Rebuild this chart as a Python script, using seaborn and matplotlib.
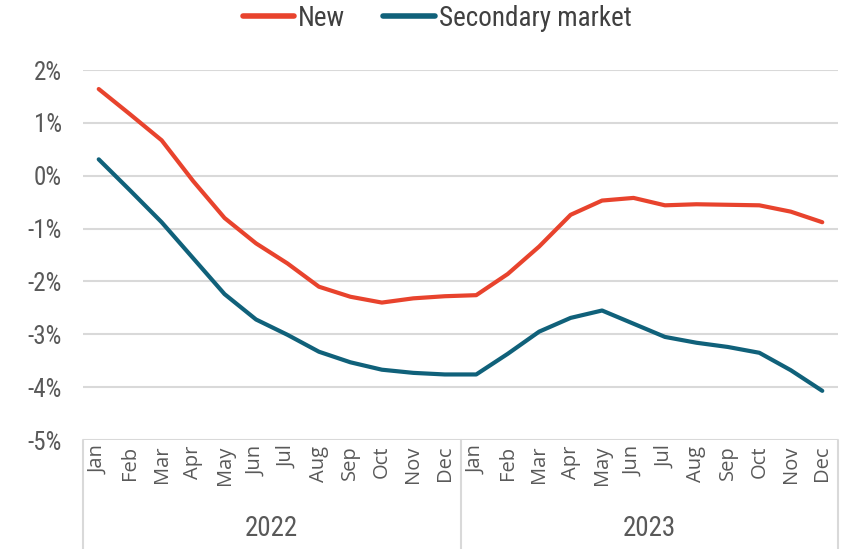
import matplotlib
matplotlib.use("Agg")
import matplotlib.pyplot as plt
import matplotlib.transforms as mtransforms
from matplotlib.lines import Line2D
from matplotlib import font_manager
import seaborn as sns
import pandas as pd
import numpy as np

months = ["Jan", "Feb", "Mar", "Apr", "May", "Jun", "Jul", "Aug", "Sep", "Oct", "Nov", "Dec"]
years = ["2022", "2023"]
new_vals = [1.64, 1.16, 0.67, -0.10, -0.80, -1.28, -1.66, -2.10, -2.29, -2.40, -2.32, -2.28,
            -2.26, -1.86, -1.34, -0.74, -0.47, -0.42, -0.56, -0.54, -0.55, -0.56, -0.68, -0.88]
secondary_vals = [0.31, -0.28, -0.88, -1.56, -2.24, -2.72, -3.01, -3.33, -3.53, -3.67, -3.73, -3.76,
                  -3.76, -3.37, -2.95, -2.69, -2.55, -2.80, -3.05, -3.16, -3.24, -3.35, -3.68, -4.07]
series_names = ["New", "Secondary market"]
colors = ["#E8432D", "#10617A"]
y_ticks = [2, 1, 0, -1, -2, -3, -4, -5]

sns.set_theme(style="white")
names = {f.name for f in font_manager.fontManager.ttflist}
cond = None
for cand in ["Liberation Sans Narrow", "DejaVu Sans Condensed", "Roboto Condensed", "Open Sans Condensed"]:
    if cand in names:
        cond = cand
        break
plt.rcParams['font.family'] = [cond or "DejaVu Sans", 'DejaVu Sans']
plt.rcParams['font.stretch'] = 'condensed'
cond_fp = dict(family=[cond or "DejaVu Sans", "DejaVu Sans"], stretch="condensed")

n = len(new_vals)
idx = np.arange(n)
df = pd.DataFrame({
    "idx": np.concatenate([idx, idx]),
    "value": new_vals + secondary_vals,
    "series": [series_names[0]] * n + [series_names[1]] * n,
})

fig = plt.figure(figsize=(8.44, 5.49), dpi=100)
ax = fig.add_axes([83 / 844, 1 - 440 / 549, (838 - 83) / 844, 370 / 549])

sns.lineplot(data=df, x="idx", y="value", hue="series", palette=colors,
             linewidth=3, ax=ax, legend=False, solid_capstyle="round")

ax.set_xlim(-0.5, n - 0.5)
ax.set_ylim(-5, 2)
ax.set_yticks(y_ticks)
ax.set_yticklabels([f"{t}%" for t in y_ticks], fontsize=18, color="#595959", **cond_fp)
ax.tick_params(axis="y", length=0, pad=15)
for t in y_ticks:
    ax.axhline(t, color="#d9d9d9", linewidth=1.5, zorder=0)

for s in ax.spines.values():
    s.set_visible(False)

ax.set_xticks(idx)
ax.set_xticklabels(months * 2, rotation=90, fontsize=14.5, color="#595959",
                   family=["Open Sans", "DejaVu Sans"], stretch="normal")
ax.tick_params(axis="x", length=0, pad=4)
ax.set_xlabel("")
ax.set_ylabel("")

trans = mtransforms.blended_transform_factory(ax.transData, ax.transAxes)
bottom = -(549 - 440) / 370
for xv in [-0.5, 11.5, 23.5]:
    ax.plot([xv, xv], [0, bottom], transform=trans, color="#d9d9d9", linewidth=1.5, clip_on=False)
for i, yr in enumerate(years):
    ax.text(i * 12 + 5.5, -(528 - 440) / 370, yr, transform=trans, ha="center", va="center",
            fontsize=19.5, color="#595959", **cond_fp)

handles = [Line2D([0], [0], color=c, linewidth=4, solid_capstyle="round") for c in colors]
leg = fig.legend(handles, series_names, loc="center", bbox_to_anchor=(437 / 844, 1 - 18 / 549),
                 ncol=2, frameon=False, handlelength=1.9, handletextpad=0.15,
                 columnspacing=1.4, prop=font_manager.FontProperties(size=19.5, **cond_fp))
for t in leg.get_texts():
    t.set_color("#404040")

fig.savefig("out.png", dpi=100)
